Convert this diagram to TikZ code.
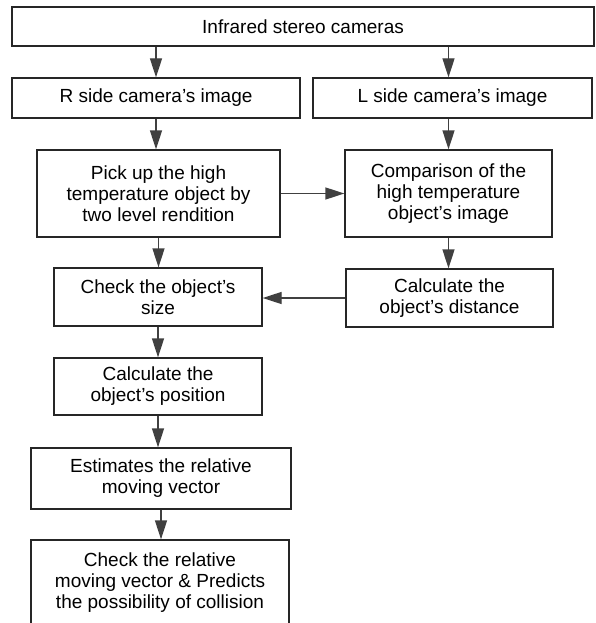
\documentclass[tikz,border=0pt]{standalone}
\usepackage{fontspec}
\setmainfont{Liberation Sans}
\usepackage{tikz}
\usetikzlibrary{positioning,calc,arrows.meta}

\begin{document}
\begin{tikzpicture}[x=1pt, y=1pt,
    stage/.style={draw=black!85, line width=1.3pt, align=center, inner sep=0pt,
                  font=\fontsize{19}{21}\selectfont},
    flow/.style={draw=black!75, line width=1.3pt, -{Triangle[length=19pt,width=12pt]}}]
    \useasboundingbox (0,0) rectangle (595,-623);
    % Cameras
    \node[stage, minimum width=582pt, minimum height=39pt] (cams) at (303,-26.5) {Infrared stereo cameras};
    % Camera images
    \node[stage, minimum width=288pt, minimum height=40pt] (rimg) at (156,-98) {R side camera’s image};
    \node[stage, minimum width=279pt, minimum height=40pt] (limg) at (452.5,-98) {L side camera’s image};
    % Image processing
    \node[stage, minimum width=243pt, minimum height=87pt] (pick) at (158.5,-193.5) {Pick up the high\\temperature object by\\two level rendition};
    \node[stage, minimum width=207pt, minimum height=87pt] (comp) at (448.5,-193.5) {Comparison of the\\high temperature\\object’s image};
    % Size and distance
    \node[stage, minimum width=208pt, minimum height=58pt] (size) at (158,-297) {Check the object’s\\size};
    \node[stage, minimum width=207pt, minimum height=58pt] (dist) at (449.5,-298) {Calculate the\\object’s distance};
    % Position, vector, collision
    \node[stage, minimum width=208pt, minimum height=57pt] (pos) at (158,-386.5) {Calculate the\\object’s position};
    \node[stage, minimum width=260pt, minimum height=61pt] (est) at (161,-478.5) {Estimates the relative\\moving vector};
    \node[stage, minimum width=258pt, minimum height=85pt] (coll) at (160,-582.5) {Check the relative\\moving vector \& Predicts\\the possibility of collision};
    % Arrows
    \draw[flow] (rimg.north |- cams.south) -- (rimg.north);
    \draw[flow] (comp.north |- cams.south) -- (comp.north |- limg.north);
    \draw[flow] (rimg.south) -- (rimg.south |- pick.north);
    \draw[flow] (comp.north |- limg.south) -- (comp.north);
    \draw[flow] (pick.east) -- (comp.west);
    \draw[flow] (pick.south) -- (pick.south |- size.north);
    \draw[flow] (comp.south) -- (comp.south |- dist.north);
    \draw[flow] (dist.west) -- (size.east |- dist.west);
    \draw[flow] (size.south) -- (pos.north);
    \draw[flow] (pos.south) -- (pos.south |- est.north);
    \draw[flow] (est.south) -- (est.south |- coll.north);
\end{tikzpicture}
\end{document}
